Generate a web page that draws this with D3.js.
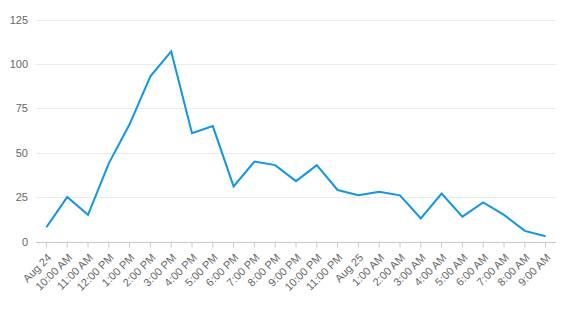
<!DOCTYPE html>
<html><head><meta charset="utf-8">
<script src="https://cdn.jsdelivr.net/npm/d3@7"></script>
<style>
html,body{margin:0;padding:0;background:#fff;}
svg{display:block;font-family:"Liberation Sans",Arial,sans-serif;}
</style></head>
<body><svg id="c" width="565" height="310"></svg>
<script>
const categories = ["Aug 24","10:00 AM","11:00 AM","12:00 PM","1:00 PM","2:00 PM","3:00 PM","4:00 PM","5:00 PM","6:00 PM","7:00 PM","8:00 PM","9:00 PM","10:00 PM","11:00 PM","Aug 25","1:00 AM","2:00 AM","3:00 AM","4:00 AM","5:00 AM","6:00 AM","7:00 AM","8:00 AM","9:00 AM"];
const values = [8,25,15,44,66,93,107,61,65,31,45,43,34,43,29,26,28,26,13,27,14,22,15,6,3];
const yTicks = [0,25,50,75,100,125];

const svg = d3.select("#c");
const m = {left:36, right:9, top:19.5, bottom:68.5};
const W = 565, H = 310;
const x = d3.scaleBand().domain(categories).range([m.left, W - m.right]);
const y = d3.scaleLinear().domain([0,125]).range([H - m.bottom, m.top]);

// gridlines
svg.append("g").selectAll("line").data(yTicks.filter(d=>d>0)).join("line")
  .attr("x1", m.left).attr("x2", W - m.right)
  .attr("y1", d=>Math.round(y(d))+0.5).attr("y2", d=>Math.round(y(d))+0.5)
  .attr("stroke","#ebebeb").attr("stroke-width",1);

// y axis labels
const ya = svg.append("g").attr("transform",`translate(${m.left},0)`)
  .call(d3.axisLeft(y).tickValues(yTicks).tickSize(0).tickPadding(8));
ya.select(".domain").remove();
ya.selectAll("text").attr("fill","#666").style("font-size","11px")
  .attr("font-family","Liberation Sans, Arial, sans-serif");

// x axis
const xa = svg.append("g").attr("transform",`translate(0,${Math.round(y(0))+0.5})`)
  .call(d3.axisBottom(x).tickSize(5).tickSizeOuter(0));
xa.select(".domain").attr("stroke","#c8c8c8").attr("d",`M${m.left},0H${W-m.right}`);
xa.selectAll(".tick line").attr("stroke","#c8c8c8");
xa.selectAll("text").attr("fill","#666").style("font-size","11px")
  .attr("font-family","Liberation Sans, Arial, sans-serif")
  .attr("text-anchor","end")
  .attr("dy","0.35em")
  .attr("transform","translate(3,13) rotate(-45)")
  .attr("y",0).attr("x",0);

// line
const line = d3.line().x((d,i)=>x(categories[i]) + x.bandwidth()/2).y(d=>y(d));
svg.append("path").datum(values).attr("d",line)
  .attr("fill","none").attr("stroke","#1295e3").attr("stroke-width",2)
  .attr("stroke-linejoin","miter");
</script></body></html>
